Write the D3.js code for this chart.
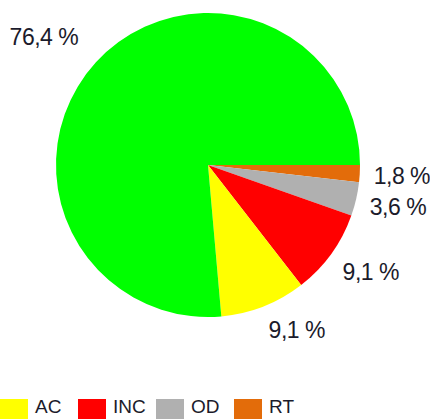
<!DOCTYPE html>
<html>
<head>
<meta charset="utf-8">
<script src="https://cdn.jsdelivr.net/npm/d3@7/dist/d3.min.js"></script>
<style>
  html, body { margin: 0; padding: 0; background: #fff; overflow: hidden; }
  svg { display: block; }
  text { font-family: "Liberation Sans", Arial, sans-serif; fill: #1b1b2b; }
</style>
</head>
<body>
<svg id="chart" width="430" height="419"></svg>
<script>
// Data (clockwise from 3 o'clock)
const categories = ["RT", "OD", "INC", "AC", "Other"];
const values = [1.8, 3.6, 9.1, 9.1, 76.4];
const labels = ["1,8 %", "3,6 %", "9,1 %", "9,1 %", "76,4 %"];
const colors = ["#e36c0a", "#b0b0b0", "#ff0000", "#ffff00", "#00ff00"];
const legendItems = ["AC", "INC", "OD", "RT"];

const W = 430, H = 419;
const cx = 208, cy = 165, R = 152;
const svg = d3.select("#chart");

const color = d3.scaleOrdinal().domain(categories).range(colors);

// d3 angles: 0 at 12 o'clock, clockwise. Start at 3 o'clock.
const pie = d3.pie().sort(null).value(d => d.v)
  .startAngle(Math.PI / 2).endAngle(Math.PI / 2 + 2 * Math.PI);
const data = categories.map((c, i) => ({ c, v: values[i], label: labels[i] }));
const arcs = pie(data);
const arc = d3.arc().innerRadius(0).outerRadius(R);

const g = svg.append("g").attr("transform", `translate(${cx},${cy})`);
g.selectAll("path").data(arcs).join("path")
  .attr("d", arc)
  .attr("fill", d => color(d.data.c));

// Labels outside the pie
const fontSize = 23;
const capH = 17;
const clamp = v => Math.max(-1, Math.min(1, v));
arcs.forEach(a => {
  const mid = (a.startAngle + a.endAngle) / 2;
  const cos = Math.sin(mid), sin = -Math.cos(mid);
  // larger labels sit a little further out
  const d = R + 14 + (a.data.v > 50 ? 10 : 0);
  const ax = d * cos, ay = d * sin;
  const t = g.append("text")
    .attr("font-size", fontSize)
    .attr("letter-spacing", -0.5)
    .text(a.data.label);
  const w = t.node().getComputedTextLength();
  const kx = clamp(3 * cos), ky = clamp(2 * sin);
  const centerX = ax + (w / 2) * kx;
  const centerY = ay + (capH / 2 + 1) * ky;
  t.attr("x", centerX - w / 2).attr("y", centerY + capH / 2);
});

// Legend
const legend = svg.append("g");
const step = 78;
const lx = d3.scaleLinear().domain([0, 1]).range([0, step]);
legendItems.forEach((c, i) => {
  const x0 = lx(i);
  legend.append("rect")
    .attr("x", x0).attr("y", 399)
    .attr("width", 28).attr("height", 24)
    .attr("fill", color(c));
  legend.append("text")
    .attr("x", x0 + 35).attr("y", 412.5)
    .attr("font-size", 19)
    .text(c);
});
</script>
</body>
</html>
